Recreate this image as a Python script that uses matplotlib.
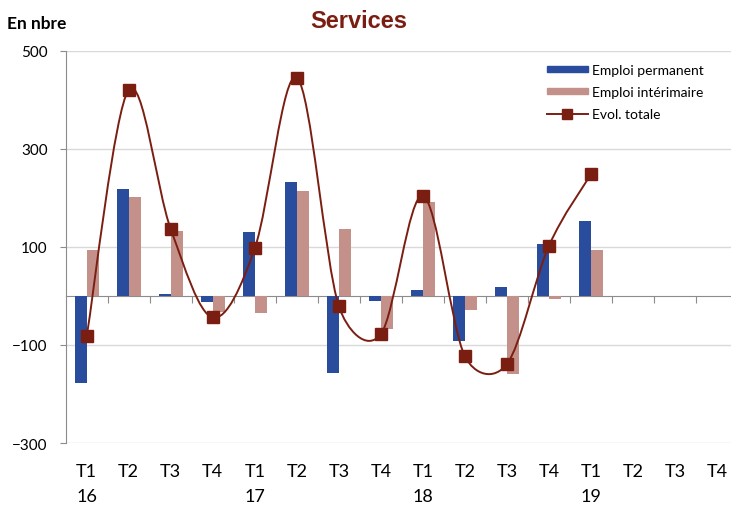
#!/usr/bin/env python3
"""Services: quarterly change in permanent and temporary employment."""

import matplotlib

matplotlib.use("Agg")
import matplotlib.pyplot as plt
from matplotlib.path import Path
from matplotlib.patches import PathPatch, Patch
from matplotlib.lines import Line2D
import numpy as np

quarters = ["T1", "T2", "T3", "T4"] * 4
years = ["16", "", "", "", "17", "", "", "", "18", "", "", "", "19", "", "", ""]
permanent = [-178, 217, 4, -12, 130, 232, -158, -11, 11, -93, 19, 106, 153]
interim = [94, 201, 132, -33, -34, 213, 136, -67, 192, -29, -159, -6, 94]
total = [-82, 420, 136, -44, 97, 445, -21, -78, 204, -123, -139, 102, 248]

BLUE = "#2A4C9C"
PINK = "#C4918A"
RED = "#7B1E12"
GRID = "#D9D9D9"
AXIS = "#8C8C8C"
FONT = ["Lato", "DejaVu Sans"]


def smooth_path(ax, xs, ys):
    # Excel-like smoothed line: Catmull-Rom Bezier, control arms capped at half the chord,
    # computed in screen space so the shape does not depend on the axis units
    pts = ax.transData.transform(np.column_stack([xs, ys]).astype(float))
    ext = np.vstack([pts[0], pts, pts[-1]])
    verts = [pts[0]]
    codes = [Path.MOVETO]
    for i in range(len(pts) - 1):
        p0, p1, p2, p3 = ext[i], ext[i + 1], ext[i + 2], ext[i + 3]
        d12 = np.hypot(*(p2 - p1))
        d02 = np.hypot(*(p2 - p0))
        d13 = np.hypot(*(p3 - p1))
        f = 1 / 6 if d02 / 6 < d12 / 2 else d12 / d02 / 2
        g = 1 / 6 if d13 / 6 < d12 / 2 else d12 / d13 / 2
        verts += [p1 + f * (p2 - p0), p2 - g * (p3 - p1), p2]
        codes += [Path.CURVE4] * 3
    data_verts = ax.transData.inverted().transform(np.array(verts))
    return Path(data_verts, codes)


fig = plt.figure(figsize=(7.31, 5.06), dpi=100)
ax = fig.add_axes([65.7 / 731, 1 - 444 / 506, (738 - 65.7) / 731, (444 - 51.7) / 506])

x = np.arange(len(permanent))
w = 0.29
ax.bar(x - w / 2, permanent, width=w, color=BLUE, zorder=2)
ax.bar(x + w / 2, interim, width=w, color=PINK, zorder=2)

ax.set_xlim(-0.5, len(quarters) - 0.5)
ax.set_ylim(-300, 500)

ax.add_patch(PathPatch(smooth_path(ax, x, total), facecolor="none", edgecolor=RED,
                       lw=1.4, zorder=3))
ax.plot(x, total, ls="none", marker="s", ms=9, color=RED, zorder=4)

ax.set_yticks([-300, -100, 100, 300, 500])
ax.yaxis.grid(True, color=GRID, lw=1.0, zorder=0)
ax.set_axisbelow(True)

for side in ("top", "right"):
    ax.spines[side].set_visible(False)
ax.spines["left"].set_color(AXIS)
ax.spines["bottom"].set_position(("data", 0))
ax.spines["bottom"].set_color(AXIS)
ax.spines["bottom"].set_zorder(1)

ax.set_xticks(np.arange(0.5, len(quarters) - 0.5, 1.0))
ax.tick_params(axis="x", length=5, color=AXIS, labelbottom=False)
ax.tick_params(axis="y", length=4.5, color=AXIS, labelsize=11, pad=8.5)
for lab in ax.get_yticklabels():
    lab.set_family(FONT)

sec = ax.secondary_xaxis(0)
sec.set_xticks(np.arange(len(quarters)))
sec.set_xticklabels([f"{q}\n{y}" for q, y in zip(quarters, years)], family=FONT,
                    fontsize=13, linespacing=1.72, va="top", ha="center")
sec.tick_params(length=0, pad=14.5)
sec.spines["bottom"].set_visible(False)

handles = [
    Patch(color=BLUE),
    Patch(color=PINK),
    Line2D([], [], color=RED, lw=1.4, marker="s", ms=7.5),
]
fig.legend(handles, ["Emploi permanent", "Emploi intérimaire", "Evol. totale"],
           loc="upper left", bbox_to_anchor=(541 / 731, 1 - 59 / 506), frameon=False,
           prop={"family": FONT, "size": 10}, handlelength=2.95, handleheight=0.3,
           labelspacing=0.72, handletextpad=0.35, borderaxespad=0)

fig.text(359 / 731, 1 - 22 / 506, "Services", ha="center", va="center",
         fontsize=17, fontweight="bold", color=RED, family="Liberation Sans")
fig.text(7 / 731, 1 - 24 / 506, "En nbre", ha="left", va="center",
         fontsize=12.5, fontweight="bold", family=FONT)

fig.savefig("out.png", dpi=100)
